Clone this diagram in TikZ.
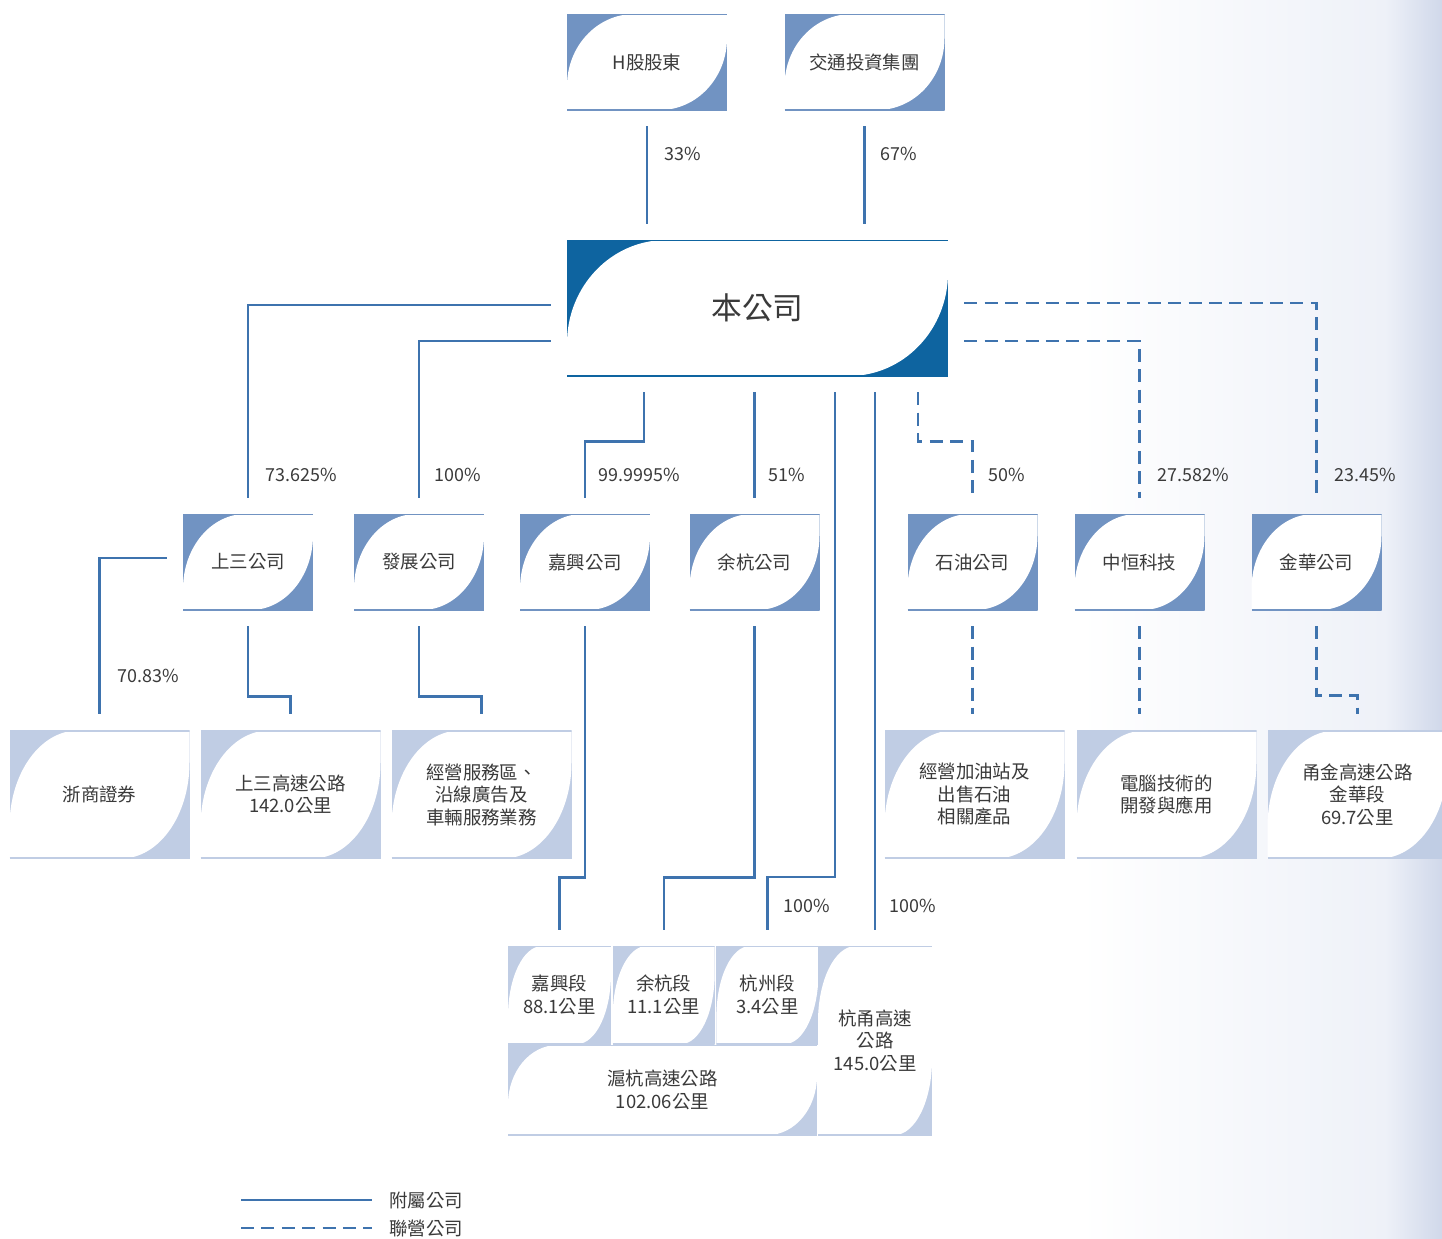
\documentclass[tikz,border=0pt]{standalone}
\usepackage{fontspec}
\setmainfont{Noto Sans CJK TC}
\usepackage{xcolor}
\usepackage{tikz}
\usetikzlibrary{calc,positioning}

\definecolor{mainblue}{RGB}{14,100,160}
\definecolor{midblue}{RGB}{113,147,194}
\definecolor{paleblue}{RGB}{192,205,228}
\definecolor{linkblue}{RGB}{62,115,174}
\definecolor{txtgray}{RGB}{58,58,58}
\definecolor{bgmid}{RGB}{238,241,248}
\definecolor{bgtint}{RGB}{208,216,234}

\begin{document}
\begin{tikzpicture}[
    x=0.02cm, y=-0.02cm,
    leaf/.style n args={3}{fill=#1, inner sep=0pt, align=center, text=txtgray,
      font=\fontsize{10.5}{12.8}\selectfont,
      path picture={
        \fill[white] let \p1=(path picture bounding box.south west),
                         \p2=(path picture bounding box.north east),
                         \n1={#2*(\x2-\x1)}, \n2={#3*(\y2-\y1)} in
          (\x1,\y1) -- (\x1,\y2-\n2*1pt)
          arc[start angle=180, end angle=90, x radius=\n1*1pt, y radius=\n2*1pt]
          -- (\x2,\y2) -- (\x2,\y1+\n2*1pt)
          arc[start angle=0, end angle=-90, x radius=\n1*1pt, y radius=\n2*1pt]
          -- cycle;
        \draw[#1, line width=1.2pt]
          (path picture bounding box.north west) -- (path picture bounding box.north east)
          (path picture bounding box.south west) -- (path picture bounding box.south east);
      }},
    sz/.style 2 args={minimum width=#1*0.02cm, minimum height=#2*0.02cm},
    topbox/.style={leaf={midblue}{0.42}{0.75}, sz={160}{96}},
    midbox/.style={leaf={midblue}{0.48}{0.78}, sz={130}{96}},
    lowbox/.style={leaf={paleblue}{0.38}{0.75}, sz={180}{128}},
    segbox/.style={leaf={paleblue}{0.33}{0.72}, sz={102}{98}},
    pct/.style={font=\fontsize{10.2}{12}\selectfont, text=txtgray, inner sep=0pt},
    link/.style={draw=linkblue, line width=1.3pt, shorten <=0.32cm, shorten >=0.32cm},
    assoc/.style={link, dash pattern=on 7.4pt off 4.2pt}
]
\useasboundingbox (0,0) rectangle (1442,1238);
\fill[white] (0,0) rectangle (1442,1238);
\shade[left color=white, right color=bgmid] (1080,0) rectangle (1386,1238);
\shade[left color=bgmid, right color=bgtint] (1385,0) rectangle (1442,1238);

% shareholders and the company
\node[topbox] (hshare) at (647,62) {H股股東};
\node[topbox] (jtgroup) at (864.5,62) {交通投資集團};
\node[leaf={mainblue}{0.26}{0.76}, sz={381}{136}, font=\fontsize{17.5}{20}\selectfont] (main) at (757.5,308) {本公司};

% second level
\node[midbox] (sansan) at (248,562) {上三公司};
\node[midbox] (fazhan) at (419,562) {發展公司};
\node[midbox] (jiaxing) at (585,562) {嘉興公司};
\node[midbox] (yuhang) at (754.5,562) {余杭公司};
\node[midbox] (shiyou) at (972.5,562) {石油公司};
\node[midbox] (zhongheng) at (1139.5,562) {中恒科技};
\node[midbox] (jinhua) at (1316.5,562) {金華公司};

% third level
\node[lowbox] (zheshang) at (99.5,794.5) {浙商證券};
\node[lowbox] (ssroad) at (290.5,794.5) {上三高速公路\\142.0公里};
\node[lowbox] (service) at (481.5,794.5) {經營服務區、\\沿線廣告及\\車輛服務業務};
\node[lowbox] (oil) at (974.5,794.5) {經營加油站及\\出售石油\\相關產品};
\node[lowbox] (computer) at (1166.5,794.5) {電腦技術的\\開發與應用};
\node[lowbox] (yjroad) at (1357.5,794.5) {甬金高速公路\\金華段\\69.7公里};

% expressway sections
\node[segbox, sz={103}{98}] (jxd) at (559.5,995) {嘉興段\\88.1公里};
\node[segbox, right=0.02cm of jxd] (yhd) {余杭段\\11.1公里};
\node[segbox, right=0.02cm of yhd] (hzd) {杭州段\\3.4公里};
\node[leaf={paleblue}{0.16}{0.66}, sz={309}{90}] (hhroad) at (662.5,1090) {滬杭高速公路\\102.06公里};
\node[leaf={paleblue}{0.33}{0.40}, sz={114}{189}] (hyroad) at (875,1040.5) {杭甬高速\\公路\\145.0公里};

% holdings
\draw[link] (hshare.south) -- (hshare.south |- main.north);
\draw[link] (jtgroup.south) -- (jtgroup.south |- main.north);
\draw[link] ($(main.north west)+(0,65)$) -| (sansan.north);
\draw[link] ($(main.north west)+(0,101)$) -| (fazhan.north);
\draw[link] ($(main.south west)+(77,0)$) -- ++(0,65) -| (jiaxing.north);
\draw[link] (main.south -| yuhang.north) -- (yuhang.north);
\draw[link] ($(main.south west)+(268,0)$) |- ($(hzd.north)+(0,-69)$) -- (hzd.north);
\draw[link] (main.south -| hyroad.north) -- (hyroad.north);
\draw[assoc] ($(main.south west)+(351,0)$) -- ++(0,65) -| (shiyou.north);
\draw[assoc] ($(main.north east)+(0,101)$) -| (zhongheng.north);
\draw[assoc] ($(main.north east)+(0,63)$) -| (jinhua.north);

\draw[link] ($(sansan.north west)+(0,44)$) -| (zheshang.north);
\draw[link] (sansan.south) -- ++(0,86) -| (ssroad.north);
\draw[link] (fazhan.south) -- ++(0,86) -| (service.north);
\draw[link] (jiaxing.south) -- ++(0,267) -| (jxd.north);
\draw[link] (yuhang.south) -- ++(0,267) -| (yhd.north);
\draw[assoc] (shiyou.south) -- (shiyou.south |- oil.north);
\draw[assoc] (zhongheng.south) -- (zhongheng.south |- computer.north);
\draw[assoc] (jinhua.south) -- ++(0,85) -| (yjroad.north);

% percentages
\node[pct] (p33) at (683,154) {33\%};
\node[pct] (p67) at (899,154) {67\%};
\node[pct] (psansan) at (301,475) {73.625\%};
\node[pct] (pfazhan) at (458,475) {100\%};
\node[pct] (pjiaxing) at (639,475) {99.9995\%};
\node[pct] (pyuhang) at (787,475) {51\%};
\node[pct] (pshiyou) at (1007,475) {50\%};
\node[pct] (pzhongheng) at (1193,475) {27.582\%};
\node[pct] (pjinhua) at (1365,475) {23.45\%};
\node[pct] (pzheshang) at (148,676) {70.83\%};
\node[pct] (phzd) at (807,906) {100\%};
\node[pct] (phyroad) at (913,906) {100\%};

% legend
\node[pct, anchor=west, font=\fontsize{10.5}{12}\selectfont] (legsub) at (389,1200) {附屬公司};
\node[pct, anchor=west, font=\fontsize{10.5}{12}\selectfont] (legass) at (389,1229) {聯營公司};
\coordinate (legsubstart) at (241,1200);
\coordinate (legassstart) at (241,1228);
\draw[link, shorten <=0pt, shorten >=0.34cm] (legsubstart) -- (legsubstart -| legsub.west);
\draw[assoc, shorten <=0pt, shorten >=0.34cm] (legassstart) -- (legassstart -| legass.west);
\end{tikzpicture}
\end{document}
